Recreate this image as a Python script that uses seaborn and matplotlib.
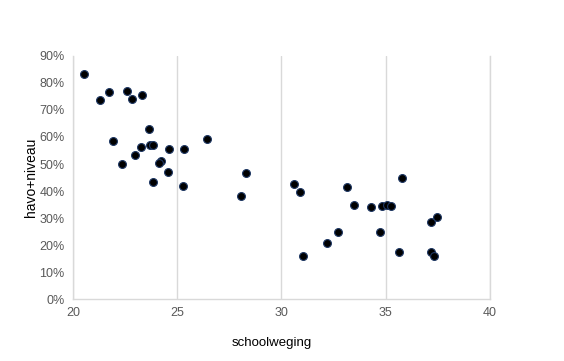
import matplotlib
matplotlib.use("Agg")
import matplotlib.pyplot as plt
import seaborn as sns
import pandas as pd
from matplotlib.ticker import PercentFormatter

schoolweging = [20.51, 21.31, 21.74, 22.60, 22.85, 23.32, 23.66, 21.90, 26.41, 23.71,
                23.82, 23.28, 24.59, 25.34, 22.96, 22.37, 24.24, 24.14, 24.54, 23.85,
                25.29, 28.07, 28.31,
                30.60, 30.90, 33.16, 35.80, 33.50, 34.30, 34.83, 35.07, 35.24, 37.19,
                37.47, 32.72, 34.74, 32.20, 31.03, 35.65, 37.19, 37.33]
havo_niveau = [0.832, 0.736, 0.766, 0.769, 0.742, 0.754, 0.628, 0.584, 0.591, 0.569,
               0.569, 0.562, 0.554, 0.554, 0.532, 0.499, 0.510, 0.505, 0.469, 0.432,
               0.417, 0.380, 0.466,
               0.426, 0.395, 0.414, 0.447, 0.347, 0.340, 0.343, 0.348, 0.343, 0.284,
               0.303, 0.247, 0.247, 0.206, 0.160, 0.173, 0.173, 0.160]

df = pd.DataFrame({"schoolweging": schoolweging, "havo+niveau": havo_niveau})

sns.set_style("white")
plt.rcParams['font.family'] = ['Liberation Sans', 'DejaVu Sans']

fig = plt.figure(figsize=(5.64, 3.61), dpi=100)
ax = fig.add_axes([0.1294, 0.1717, 0.7394, 0.6732])

sns.scatterplot(data=df, x="schoolweging", y="havo+niveau", ax=ax,
                color="black", edgecolor="#1f3864", linewidth=0.8, s=32, zorder=3,
                clip_on=False)

ax.set_xlim(20, 40)
ax.set_ylim(0, 0.9)
ax.set_xticks([20, 25, 30, 35, 40])
ax.set_yticks([i / 10 for i in range(10)])
ax.yaxis.set_major_formatter(PercentFormatter(1.0, decimals=0))

ax.grid(axis="x", color="#d9d9d9", linewidth=1)
ax.grid(axis="y", visible=False)
ax.spines["top"].set_visible(False)
for s in ["left", "bottom", "right"]:
    ax.spines[s].set_color("#d9d9d9")
    ax.spines[s].set_linewidth(1)

ax.tick_params(axis="both", length=0, labelsize=9, labelcolor="#595959", pad=6)
ax.set_xlabel("schoolweging", fontsize=9.5, color="black")
ax.set_ylabel("havo+niveau", fontsize=10, color="black")
ax.xaxis.set_label_coords(0.476, -0.155)
ax.yaxis.set_label_coords(-0.084, 0.5)

fig.savefig("out.png", dpi=100)
